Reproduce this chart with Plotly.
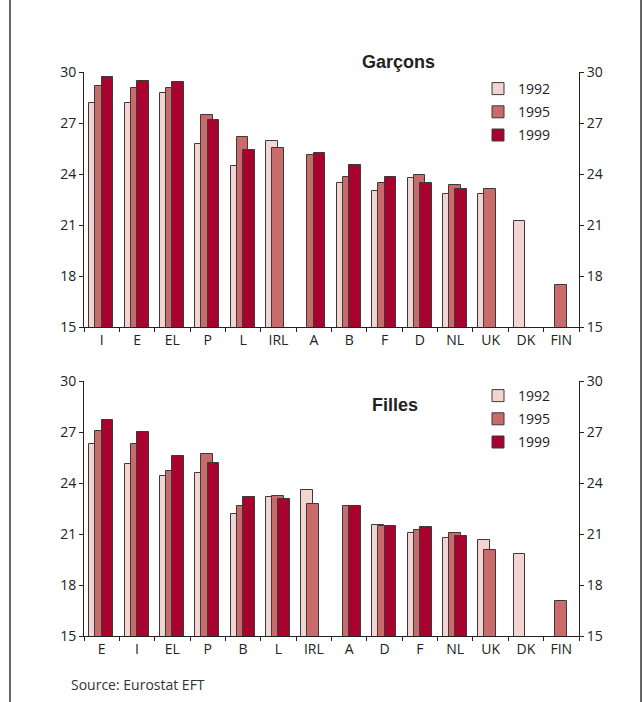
import plotly.graph_objects as go

# Categories for each panel
cats_garcons = ["I", "E", "EL", "P", "L", "IRL", "A", "B", "F", "D", "NL", "UK", "DK", "FIN"]
cats_filles = ["E", "I", "EL", "P", "B", "L", "IRL", "A", "D", "F", "NL", "UK", "DK", "FIN"]

# Garçons
g_1992 = [28.15, 28.15, 28.75, 25.75, 24.5, 25.95, None, 23.45, 23.0, 23.75, 22.8, 22.8, 21.25, None]
g_1995 = [29.2, 29.05, 29.05, 27.5, 26.15, 25.55, 25.1, 23.85, 23.45, 23.95, 23.35, 23.1, None, 17.5]
g_1999 = [29.7, 29.45, 29.4, 27.2, 25.4, None, 25.25, 24.55, 23.8, 23.5, 23.1, None, None, None]

# Filles
f_1992 = [26.3, 25.1, 24.4, 24.6, 22.2, 23.2, 23.6, None, 21.55, 21.05, 20.75, 20.65, 19.85, None]
f_1995 = [27.05, 26.3, 24.7, 25.7, 22.65, 23.25, 22.75, 22.65, 21.5, 21.25, 21.05, 20.05, None, 17.05]
f_1999 = [27.7, 27.0, 25.6, 25.2, 23.2, 23.05, None, 22.65, 21.5, 21.4, 20.9, None, None, None]

years = ["1992", "1995", "1999"]
colors = ["#F2D4D1", "#C96B6B", "#A8022F"]
offsets = [-0.35, -0.18, 0.0]
bar_w = 0.33

W, H = 643, 702
ML, MR, MT, MB = 84, 64, 72, 66
PW = W - ML - MR
PH = H - MT - MB


def px_x(x):
    return (x - ML) / PW


def px_y(y):
    return 1 - (y - MT) / PH


def clamp(v):
    return min(1.0, max(0.0, v))


top_dom = [clamp(px_y(327)), clamp(px_y(72))]
bot_dom = [clamp(px_y(636)), clamp(px_y(381))]

fig = go.Figure()

panels = [
    (cats_garcons, [g_1992, g_1995, g_1999], "x", "y", "legend"),
    (cats_filles, [f_1992, f_1995, f_1999], "x2", "y2", "legend2"),
]
for cats, series, xa, ya, lg in panels:
    for yr, vals, col, off in zip(years, series, colors, offsets):
        fig.add_trace(go.Bar(
            x=cats, y=vals, name=yr, xaxis=xa, yaxis=ya,
            offset=off, width=bar_w,
            marker=dict(color=col, line=dict(color="#3a3a3a", width=1)),
            legend=lg, legendgroup=lg + yr,
        ))

# Empty traces so the right-hand value axes are drawn
fig.add_trace(go.Scatter(x=cats_garcons[:1], y=[None], xaxis="x", yaxis="y3",
                         showlegend=False, hoverinfo="skip"))
fig.add_trace(go.Scatter(x=cats_filles[:1], y=[None], xaxis="x2", yaxis="y4",
                         showlegend=False, hoverinfo="skip"))

tick_font = dict(family="Open Sans, Noto Sans, sans-serif", size=14, color="#222")

yax = dict(range=[15, 30], tick0=15, dtick=3, ticks="outside", ticklen=4,
           tickcolor="#222", showline=True, linecolor="#222", linewidth=1,
           showgrid=False, zeroline=False, tickfont=tick_font, fixedrange=True)
xax = dict(type="category", tickson="boundaries", ticks="outside", ticklen=4,
           tickcolor="#222", showline=True, linecolor="#222", linewidth=1,
           showgrid=False, zeroline=False, tickfont=tick_font, range=[-0.5, 13.5])

leg = dict(font=dict(family="Open Sans, Noto Sans, sans-serif", size=14, color="#222"),
           bgcolor="rgba(0,0,0,0)", tracegroupgap=2, xanchor="left", yanchor="top",
           itemclick=False, itemdoubleclick=False)

title_font = dict(family="Liberation Sans, Arial, sans-serif", size=18, color="#222")

fig.update_layout(
    width=W, height=H,
    margin=dict(l=ML, r=MR, t=MT, b=MB),
    paper_bgcolor="white", plot_bgcolor="white",
    barmode="overlay", bargap=0,
    xaxis=dict(xax, domain=[0, 1], anchor="y"),
    yaxis=dict(yax, domain=top_dom, anchor="x"),
    yaxis3=dict(yax, overlaying="y", side="right", anchor="x"),
    xaxis2=dict(xax, domain=[0, 1], anchor="y2"),
    yaxis2=dict(yax, domain=bot_dom, anchor="x2"),
    yaxis4=dict(yax, overlaying="y2", side="right", anchor="x2"),
    legend=dict(leg, x=px_x(478), y=px_y(73)),
    legend2=dict(leg, x=px_x(478), y=px_y(380)),
    showlegend=True,
    annotations=[
        dict(text="<b>Garçons</b>", x=px_x(398), y=px_y(62), xref="paper", yref="paper",
             xanchor="center", yanchor="middle", showarrow=False, font=title_font),
        dict(text="<b>Filles</b>", x=px_x(395), y=px_y(405), xref="paper", yref="paper",
             xanchor="center", yanchor="middle", showarrow=False, font=title_font),
        dict(text="Source: Eurostat EFT", x=px_x(69), y=px_y(684), xref="paper", yref="paper",
             xanchor="left", yanchor="middle", showarrow=False,
             font=dict(family="Open Sans, Noto Sans, sans-serif", size=14, color="#333")),
    ],
    shapes=[
        dict(type="line", xref="paper", yref="paper", x0=px_x(10), x1=px_x(10),
             y0=px_y(0), y1=px_y(H), line=dict(color="#333", width=1.5)),
        dict(type="line", xref="paper", yref="paper", x0=px_x(641), x1=px_x(641),
             y0=px_y(0), y1=px_y(H), line=dict(color="#333", width=1.5)),
    ],
)

fig.write_html("out.html", config={"displayModeBar": False})
